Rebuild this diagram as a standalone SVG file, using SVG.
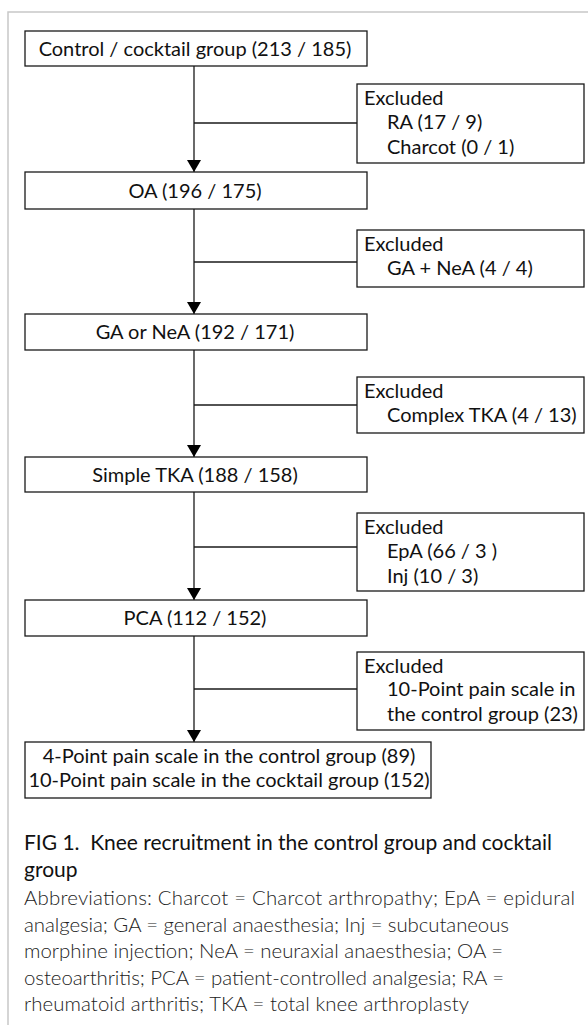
<svg xmlns="http://www.w3.org/2000/svg" width="588" height="1025" viewBox="0 0 588 1025">
<style>
.box{fill:#fff;stroke:#1a1a1a;stroke-width:1.3}
.t{font-family:Lato,"Liberation Sans",sans-serif;font-size:20px;fill:#111}
.c{text-anchor:middle}
.cap{font-family:Lato,"Liberation Sans",sans-serif;font-size:21px;fill:#111}
.abb{font-family:Lato,"Liberation Sans",sans-serif;font-size:20.4px;font-weight:300;fill:#222}
.ln{stroke:#1a1a1a;stroke-width:1.3;fill:none}
</style>
<defs>
<marker id="ah" viewBox="0 0 12 14" refX="12" refY="7" markerWidth="12" markerHeight="14" markerUnits="userSpaceOnUse" orient="auto">
<path d="M0,0 L12,7 L0,14 Z" fill="#000"/>
</marker>
</defs>
<rect width="588" height="1025" fill="#fff"/>
<path d="M8,1025 V12 H588" fill="none" stroke="#c8c8c8" stroke-width="1.5"/>
<g id="connectors">
<line class="ln" x1="194" y1="66" x2="194" y2="172" marker-end="url(#ah)"/>
<line class="ln" x1="194" y1="123" x2="357" y2="123"/>
<line class="ln" x1="194" y1="209" x2="194" y2="314" marker-end="url(#ah)"/>
<line class="ln" x1="194" y1="262" x2="357" y2="262"/>
<line class="ln" x1="194" y1="350" x2="194" y2="457" marker-end="url(#ah)"/>
<line class="ln" x1="194" y1="405" x2="357" y2="405"/>
<line class="ln" x1="194" y1="492" x2="194" y2="600" marker-end="url(#ah)"/>
<line class="ln" x1="194" y1="547" x2="357" y2="547"/>
<line class="ln" x1="194" y1="636" x2="194" y2="742" marker-end="url(#ah)"/>
<line class="ln" x1="194" y1="689" x2="357" y2="689"/>
</g>
<g id="n1"><rect class="box" x="25" y="31" width="342" height="35"/><text class="t c" x="195" y="56">Control / cocktail group (213 / 185)</text></g>
<g id="x1"><rect class="box" x="357" y="84" width="227" height="79"/><text class="t" x="364" y="104.5">Excluded</text><text class="t" x="387" y="129">RA (17 / 9)</text><text class="t" x="387" y="153.5">Charcot (0 / 1)</text></g>
<g id="n2"><rect class="box" x="25" y="172" width="342" height="37"/><text class="t c" x="195" y="197.5">OA (196 / 175)</text></g>
<g id="x2"><rect class="box" x="357" y="230" width="227" height="57"/><text class="t" x="364" y="250.5">Excluded</text><text class="t" x="387" y="275">GA + NeA (4 / 4)</text></g>
<g id="n3"><rect class="box" x="25" y="314" width="342" height="36"/><text class="t c" x="195" y="339">GA or NeA (192 / 171)</text></g>
<g id="x3"><rect class="box" x="357" y="377" width="227" height="56"/><text class="t" x="364" y="397.5">Excluded</text><text class="t" x="387" y="422">Complex TKA (4 / 13)</text></g>
<g id="n4"><rect class="box" x="25" y="457" width="342" height="35"/><text class="t c" x="195" y="481.5">Simple TKA (188 / 158)</text></g>
<g id="x4"><rect class="box" x="357" y="513" width="227" height="78"/><text class="t" x="364" y="533.5">Excluded</text><text class="t" x="387" y="558">EpA (66 / 3 )</text><text class="t" x="387" y="582.5">Inj (10 / 3)</text></g>
<g id="n5"><rect class="box" x="25" y="600" width="342" height="36"/><text class="t c" x="195" y="625">PCA (112 / 152)</text></g>
<g id="x5"><rect class="box" x="357" y="652" width="227" height="78"/><text class="t" x="364" y="672.5">Excluded</text><text class="t" x="387" y="696">10-Point pain scale in</text><text class="t" x="387" y="720.5">the control group (23)</text></g>
<g id="n6"><rect class="box" x="25" y="742" width="406" height="56"/><text class="t c" x="229" y="763">4-Point pain scale in the control group (89)</text><text class="t c" x="229" y="787">10-Point pain scale in the cocktail group (152)</text></g>
<g id="caption">
<text class="cap" x="24" y="850" textLength="528" xml:space="preserve">FIG 1.  Knee recruitment in the control group and cocktail</text>
<text class="cap" x="24" y="877">group</text>
<text class="abb" x="24" y="905" textLength="551">Abbreviations: Charcot = Charcot arthropathy; EpA = epidural</text>
<text class="abb" x="24" y="931.5" textLength="485">analgesia; GA = general anaesthesia; Inj = subcutaneous</text>
<text class="abb" x="24" y="958" textLength="479">morphine injection; NeA = neuraxial anaesthesia; OA =</text>
<text class="abb" x="24" y="984.5" textLength="480">osteoarthritis; PCA = patient-controlled analgesia; RA =</text>
<text class="abb" x="24" y="1011" textLength="445">rheumatoid arthritis; TKA = total knee arthroplasty</text>
</g>
</svg>
